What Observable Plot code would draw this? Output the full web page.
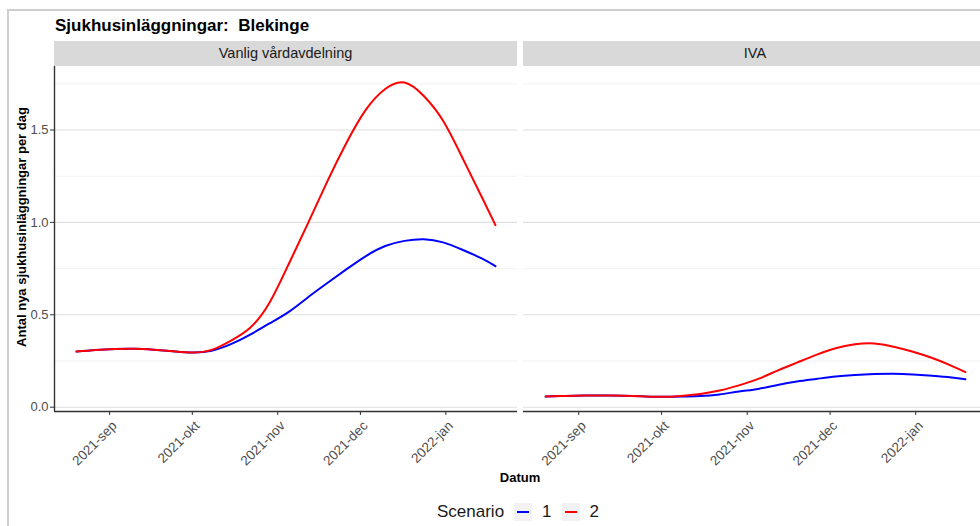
<!DOCTYPE html>
<html>
<head>
<meta charset="utf-8">
<script src="https://cdn.jsdelivr.net/npm/d3@7"></script>
<script src="https://cdn.jsdelivr.net/npm/@observablehq/plot@0.6"></script>
<style>
html, body { margin: 0; padding: 0; background: #fff; width: 980px; height: 526px; overflow: hidden; }
#root { position: relative; width: 980px; height: 526px; overflow: hidden; font-family: "Liberation Sans", Arial, sans-serif; color: #000; }
.abs { position: absolute; white-space: nowrap; }
#frame { left: 7px; top: 9px; width: 1100px; height: 700px; border: 2px solid #cfcfcf; }
#title { left: 55px; top: 17px; font-size: 17px; font-weight: bold; line-height: 17px; }
.strip { top: 41px; height: 25px; line-height: 25px; background: #d9d9d9; text-align: center; font-size: 14.5px; color: #1a1a1a; }
#ylab { left: -128px; top: 219px; width: 300px; height: 16px; line-height: 16px; text-align: center; font-size: 13px; font-weight: bold; transform: rotate(-90deg); }
#xlab { left: 420px; top: 470px; width: 200px; text-align: center; font-size: 13px; font-weight: bold; line-height: 15px; }
#legend { left: 437px; top: 502px; height: 20px; display: flex; align-items: center; font-size: 17px; line-height: 20px; color: #1a1a1a; }
.key { width: 18px; height: 18px; background: #f2f2f2; position: relative; margin-left: 10px; }
.key span { position: absolute; left: 3px; right: 3px; top: 8px; height: 2px; }
.klab { margin-left: 10px; }
.panel { top: 66px; overflow: visible; }
.panel svg { overflow: visible; max-width: none !important; display: block; }
</style>
</head>
<body>
<div id="root">
  <div id="frame" class="abs"></div>
  <div id="title" class="abs"></div>
  <div id="strip1" class="abs strip"></div>
  <div id="strip2" class="abs strip"></div>
  <div id="ylab" class="abs"></div>
  <div id="xlab" class="abs"></div>
  <div id="panel1" class="abs panel"></div>
  <div id="panel2" class="abs panel"></div>
  <div id="legend" class="abs"></div>
</div>
<script>
// ---- Data ----
const titleText = "Sjukhusinläggningar:\u00a0 Blekinge";
const panels = ["Vanlig vårdavdelning", "IVA"];
const scenarios = ["1", "2"];
const scenarioColors = ["#0000ff", "#ff0000"];
const yLabel = "Antal nya sjukhusinläggningar per dag";
const xLabel = "Datum";
const legendTitle = "Scenario";

const dates = ["2021-08-20","2021-08-27","2021-09-03","2021-09-10","2021-09-17","2021-09-24",
  "2021-10-01","2021-10-08","2021-10-15","2021-10-22","2021-10-29","2021-11-05","2021-11-12",
  "2021-11-19","2021-11-26","2021-12-03","2021-12-10","2021-12-17","2021-12-24","2021-12-31",
  "2022-01-07","2022-01-14","2022-01-19"];

const vardScen1 = [0.301,0.310,0.315,0.316,0.311,0.303,0.296,0.305,0.341,0.393,0.453,0.516,0.595,
  0.672,0.747,0.818,0.872,0.900,0.909,0.892,0.852,0.805,0.763];
const vardScen2 = [0.301,0.310,0.315,0.316,0.311,0.303,0.296,0.310,0.360,0.430,0.565,0.775,0.996,
  1.222,1.432,1.610,1.722,1.757,1.684,1.550,1.350,1.139,0.985];
const ivaScen1 = [0.058,0.061,0.063,0.063,0.062,0.059,0.056,0.058,0.060,0.069,0.085,0.099,0.120,
  0.139,0.153,0.166,0.174,0.179,0.181,0.177,0.170,0.161,0.151];
const ivaScen2 = [0.058,0.061,0.063,0.063,0.062,0.059,0.056,0.061,0.072,0.090,0.118,0.153,0.198,
  0.241,0.283,0.319,0.340,0.345,0.327,0.300,0.266,0.224,0.190];

const yTicks = [0, 0.5, 1, 1.5];
const yMinor = [0.25, 0.75, 1.25, 1.75];
const xTickDates = ["2021-09-01","2021-10-01","2021-11-01","2021-12-01","2022-01-01"];
const xTickLabels = ["2021-sep","2021-okt","2021-nov","2021-dec","2022-jan"];

// ---- Layout settings ----
const xDomain = [new Date("2021-08-12"), new Date("2022-01-27")];
const yDomain = [-0.0233, 1.8436];

// ---- Build table ----
const series = [
  [panels[0], scenarios[0], vardScen1],
  [panels[0], scenarios[1], vardScen2],
  [panels[1], scenarios[0], ivaScen1],
  [panels[1], scenarios[1], ivaScen2]
];
const rows = [];
for (const [panel, scen, vals] of series) {
  vals.forEach((v, i) => rows.push({panel, scenario: scen, date: new Date(dates[i]), value: v}));
}
const tickDates = xTickDates.map(d => new Date(d));
const fmtX = d => { const i = tickDates.findIndex(t => +t === +d); return i >= 0 ? xTickLabels[i] : ""; };

function makePanel(panel, showY, width) {
  const marginLeft = showY ? 54 : 0;
  return Plot.plot({
    width: width + marginLeft,
    height: 345 + 70,
    marginLeft,
    marginRight: 0,
    marginTop: 0,
    marginBottom: 70,
    style: {fontFamily: '"Liberation Sans", Arial, sans-serif', fontSize: "13px", background: "transparent", overflow: "visible", maxWidth: "none"},
    x: {type: "utc", domain: xDomain},
    y: {domain: yDomain, axis: showY ? undefined : null},
    color: {domain: scenarios, range: scenarioColors},
    marks: [
      Plot.ruleY(yMinor, {stroke: "#f1f1f1", strokeWidth: 1}),
      Plot.ruleY(yTicks, {stroke: "#dedede", strokeWidth: 1.1}),
      Plot.line(rows.filter(r => r.panel === panel), {x: "date", y: "value", z: "scenario", stroke: "scenario", strokeWidth: 2, curve: "natural"}),
      Plot.ruleY([yDomain[0]], {stroke: "#333", strokeWidth: 1.4}),
      showY ? Plot.ruleX([xDomain[0]], {stroke: "#333", strokeWidth: 1.4}) : null,
      showY ? Plot.axisY({ticks: yTicks, tickFormat: d3.format(".1f"), tickSize: 4, tickPadding: 2, stroke: "#333", fill: "#4d4d4d", fontSize: 13, label: null}) : null,
      // tick marks only
      Plot.axisX({ticks: tickDates, tickFormat: () => "", tickSize: 4, stroke: "#333", label: null}),
      // rotated labels only
      Plot.axisX({ticks: tickDates, tickFormat: fmtX, tickRotate: -45, tickSize: 0, tickPadding: 7, dx: 5, dy: 5, fill: "#4d4d4d", fontSize: 13.5, label: null})
    ]
  });
}

document.getElementById("title").textContent = titleText;
const s1 = document.getElementById("strip1");
s1.textContent = panels[0]; s1.style.left = "54px"; s1.style.width = "463px";
const s2 = document.getElementById("strip2");
s2.textContent = panels[1]; s2.style.left = "523px"; s2.style.width = "464px";
document.getElementById("ylab").textContent = yLabel;
document.getElementById("xlab").textContent = xLabel;

const p1 = document.getElementById("panel1");
p1.style.left = "0px"; p1.style.width = "517px";
p1.appendChild(makePanel(panels[0], true, 463));
const p2 = document.getElementById("panel2");
p2.style.left = "523px"; p2.style.width = "464px";
p2.appendChild(makePanel(panels[1], false, 464));

const legend = document.getElementById("legend");
const lt = document.createElement("span"); lt.textContent = legendTitle; legend.appendChild(lt);
scenarios.forEach((s, i) => {
  const k = document.createElement("div"); k.className = "key";
  const ln = document.createElement("span"); ln.style.background = scenarioColors[i]; k.appendChild(ln);
  legend.appendChild(k);
  const l = document.createElement("span"); l.className = "klab"; l.textContent = s; legend.appendChild(l);
});
</script>
</body>
</html>
